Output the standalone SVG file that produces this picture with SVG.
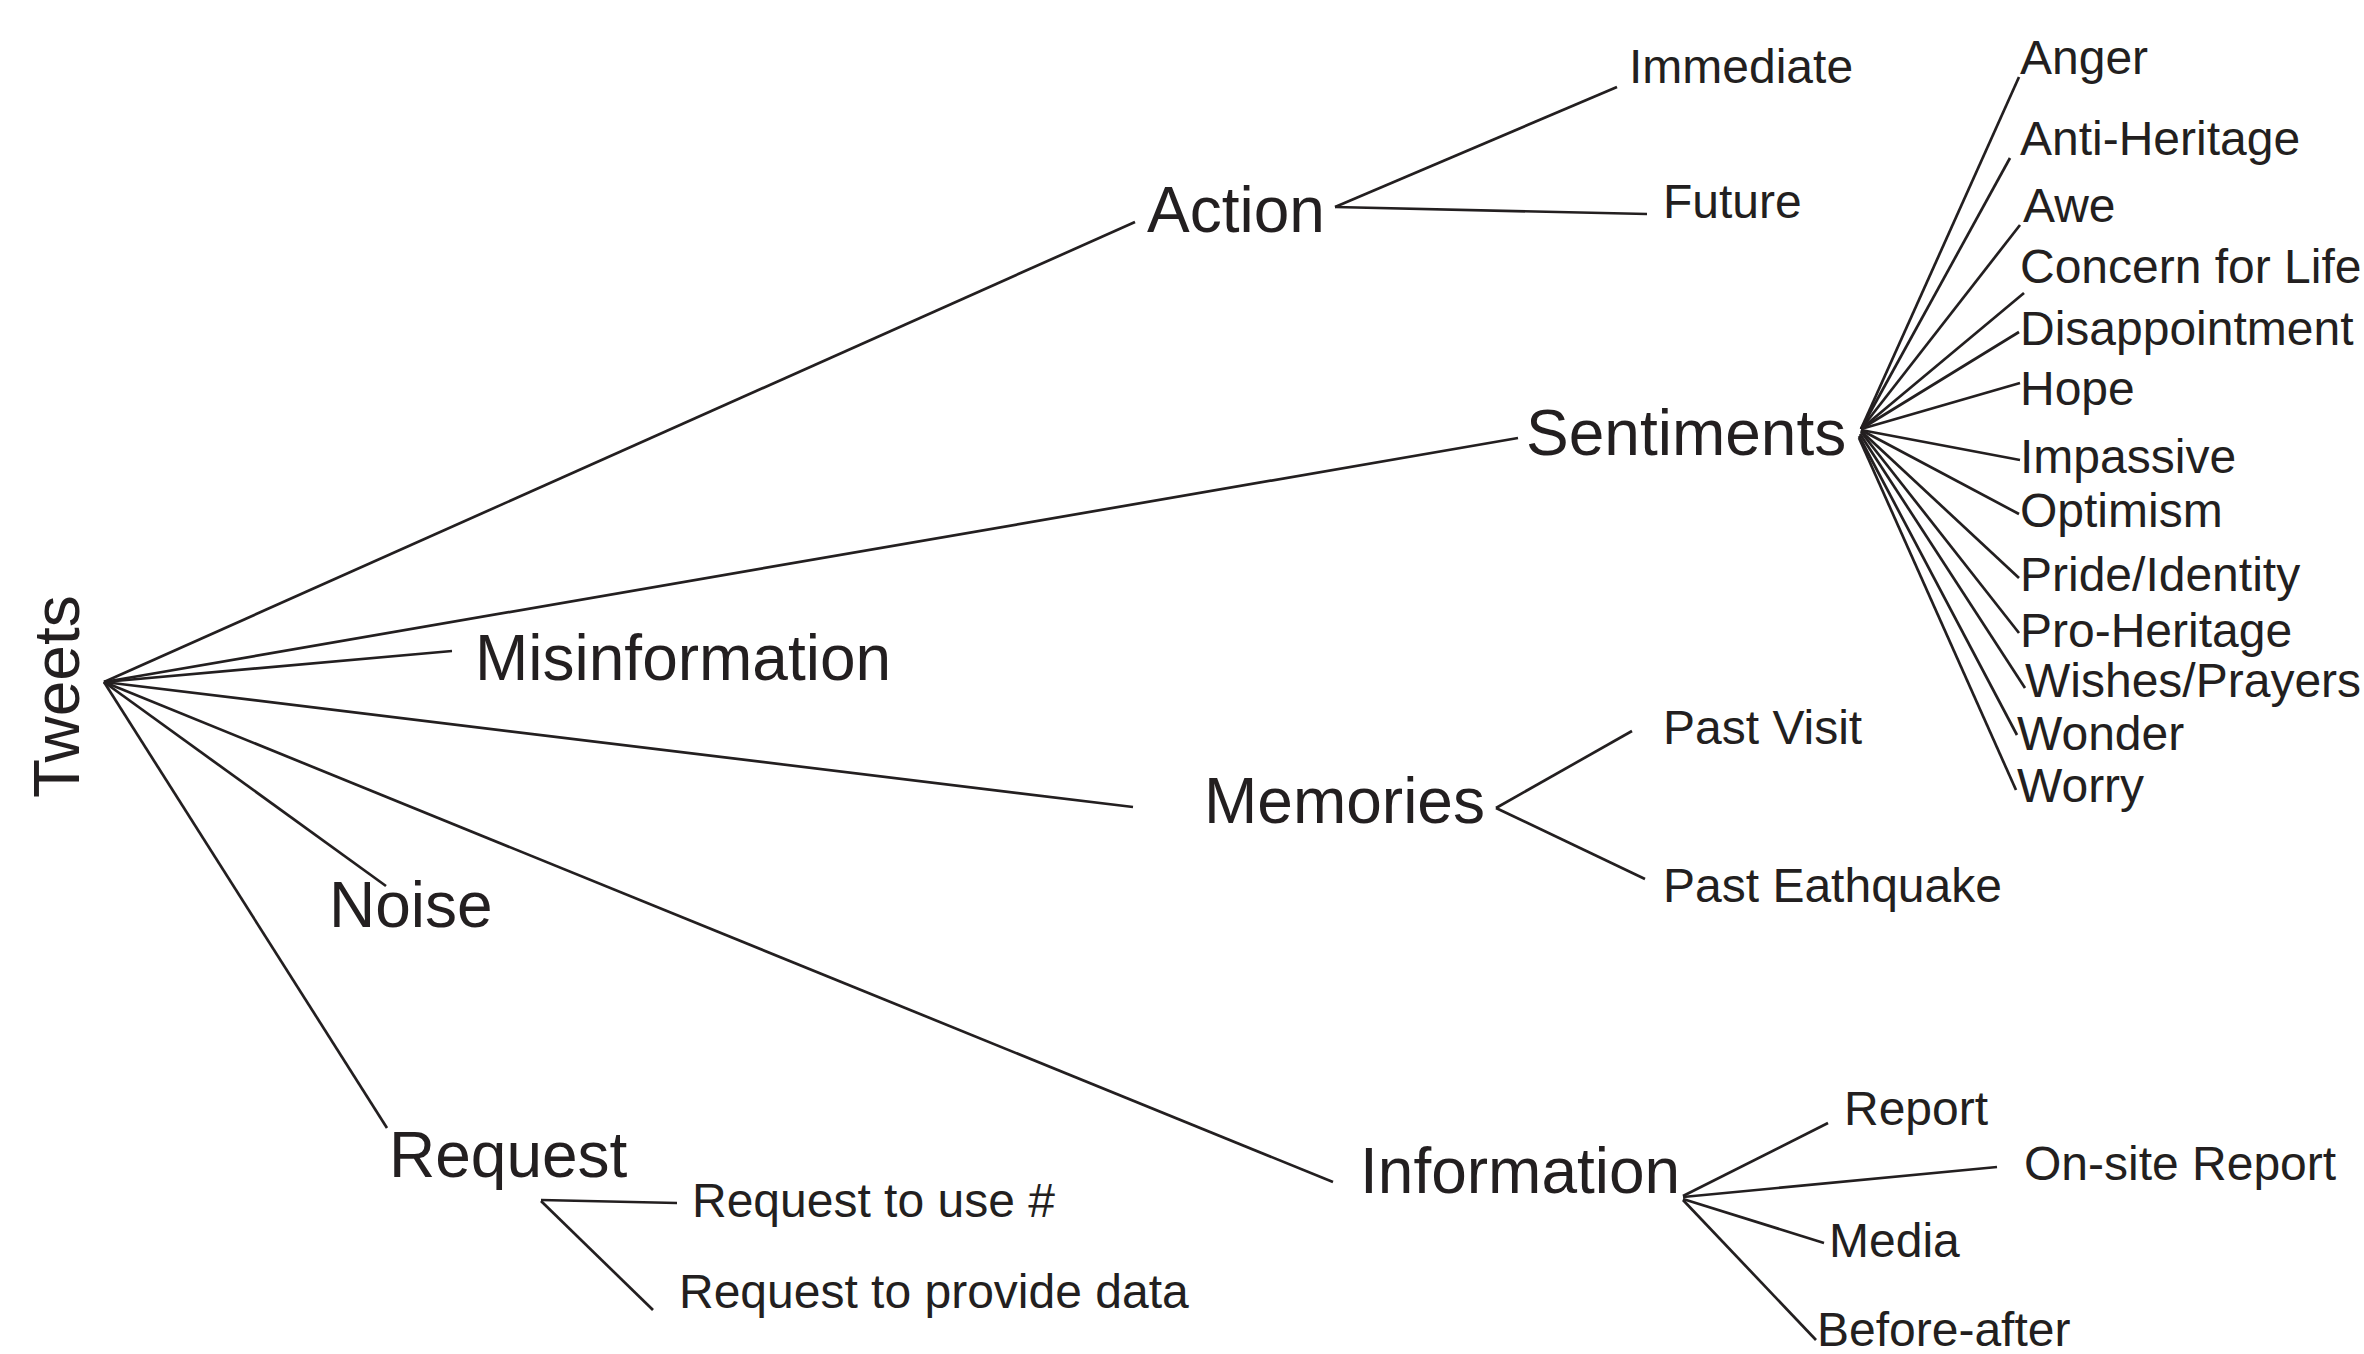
<svg xmlns="http://www.w3.org/2000/svg" width="2364" height="1354" viewBox="0 0 2364 1354">
  <style>
    text { font-family: "Liberation Sans", Arial, sans-serif; fill: #231f20; }
    .big { font-size: 64px; }
    .small { font-size: 48px; }
    #connectors line { stroke: #231f20; stroke-width: 2.7; stroke-linecap: butt; }
  </style>
  <rect width="2364" height="1354" fill="#ffffff"/>

  <g id="connectors">
    <!-- root fan -->
    <line x1="104" y1="682" x2="1135" y2="222"/>
    <line x1="104" y1="682" x2="1518" y2="438"/>
    <line x1="104" y1="682" x2="452" y2="651"/>
    <line x1="104" y1="682" x2="1133" y2="807"/>
    <line x1="104" y1="682" x2="386" y2="886"/>
    <line x1="104" y1="682" x2="1333" y2="1182"/>
    <line x1="104" y1="682" x2="387" y2="1128"/>
    <!-- Action -->
    <line x1="1335" y1="207" x2="1617" y2="87"/>
    <line x1="1335" y1="207" x2="1647" y2="214"/>
    <!-- Sentiments -->
    <line x1="1861" y1="429" x2="2019" y2="77"/>
    <line x1="1861" y1="429" x2="2010" y2="158"/>
    <line x1="1861" y1="429" x2="2020" y2="225"/>
    <line x1="1861" y1="429" x2="2024" y2="293"/>
    <line x1="1861" y1="429" x2="2019" y2="332"/>
    <line x1="1861" y1="429" x2="2020" y2="383"/>
    <line x1="1861" y1="430" x2="2020" y2="460"/>
    <line x1="1861" y1="430" x2="2019" y2="514"/>
    <line x1="1861" y1="431" x2="2019" y2="578"/>
    <line x1="1861" y1="432" x2="2019" y2="633"/>
    <line x1="1860" y1="434" x2="2025" y2="688"/>
    <line x1="1859" y1="436" x2="2017" y2="735"/>
    <line x1="1859" y1="438" x2="2016" y2="790"/>
    <!-- Memories -->
    <line x1="1496" y1="808" x2="1632" y2="731"/>
    <line x1="1496" y1="808" x2="1645" y2="879"/>
    <!-- Information -->
    <line x1="1683" y1="1196" x2="1828" y2="1123"/>
    <line x1="1683" y1="1197" x2="1997" y2="1167"/>
    <line x1="1683" y1="1199" x2="1824" y2="1243"/>
    <line x1="1683" y1="1200" x2="1816" y2="1340"/>
    <!-- Request -->
    <line x1="541" y1="1200" x2="677" y2="1203"/>
    <line x1="541" y1="1201" x2="653" y2="1310"/>
  </g>

  <g id="tweets"><text class="big" transform="translate(79,798) rotate(-90)">Tweets</text></g>

  <g id="action"><text class="big" x="1147" y="232">Action</text></g>
  <g id="immediate"><text class="small" x="1629" y="83">Immediate</text></g>
  <g id="future"><text class="small" x="1663" y="218">Future</text></g>

  <g id="sentiments"><text class="big" x="1526" y="455">Sentiments</text></g>
  <g id="anger"><text class="small" x="2020" y="74">Anger</text></g>
  <g id="anti-heritage"><text class="small" x="2020" y="155">Anti-Heritage</text></g>
  <g id="awe"><text class="small" x="2023" y="222">Awe</text></g>
  <g id="concern-for-life"><text class="small" x="2020" y="283">Concern for Life</text></g>
  <g id="disappointment"><text class="small" x="2020" y="345">Disappointment</text></g>
  <g id="hope"><text class="small" x="2020" y="405">Hope</text></g>
  <g id="impassive"><text class="small" x="2020" y="473">Impassive</text></g>
  <g id="optimism"><text class="small" x="2020" y="527">Optimism</text></g>
  <g id="pride-identity"><text class="small" x="2020" y="591">Pride/Identity</text></g>
  <g id="pro-heritage"><text class="small" x="2020" y="647">Pro-Heritage</text></g>
  <g id="wishes-prayers"><text class="small" x="2025" y="697">Wishes/Prayers</text></g>
  <g id="wonder"><text class="small" x="2017" y="750">Wonder</text></g>
  <g id="worry"><text class="small" x="2017" y="802">Worry</text></g>

  <g id="misinformation"><text class="big" x="475" y="680">Misinformation</text></g>

  <g id="memories"><text class="big" x="1204" y="823">Memories</text></g>
  <g id="past-visit"><text class="small" x="1663" y="744">Past Visit</text></g>
  <g id="past-earthquake"><text class="small" x="1663" y="902">Past Eathquake</text></g>

  <g id="noise"><text class="big" x="329" y="927">Noise</text></g>

  <g id="information"><text class="big" x="1360" y="1193">Information</text></g>
  <g id="report"><text class="small" x="1844" y="1125">Report</text></g>
  <g id="on-site-report"><text class="small" x="2024" y="1180">On-site Report</text></g>
  <g id="media"><text class="small" x="1829" y="1257">Media</text></g>
  <g id="before-after"><text class="small" x="1817" y="1346">Before-after</text></g>

  <g id="request"><text class="big" x="389" y="1177">Request</text></g>
  <g id="request-hashtag"><text class="small" x="692" y="1217">Request to use #</text></g>
  <g id="request-data"><text class="small" x="679" y="1308">Request to provide data</text></g>
</svg>
